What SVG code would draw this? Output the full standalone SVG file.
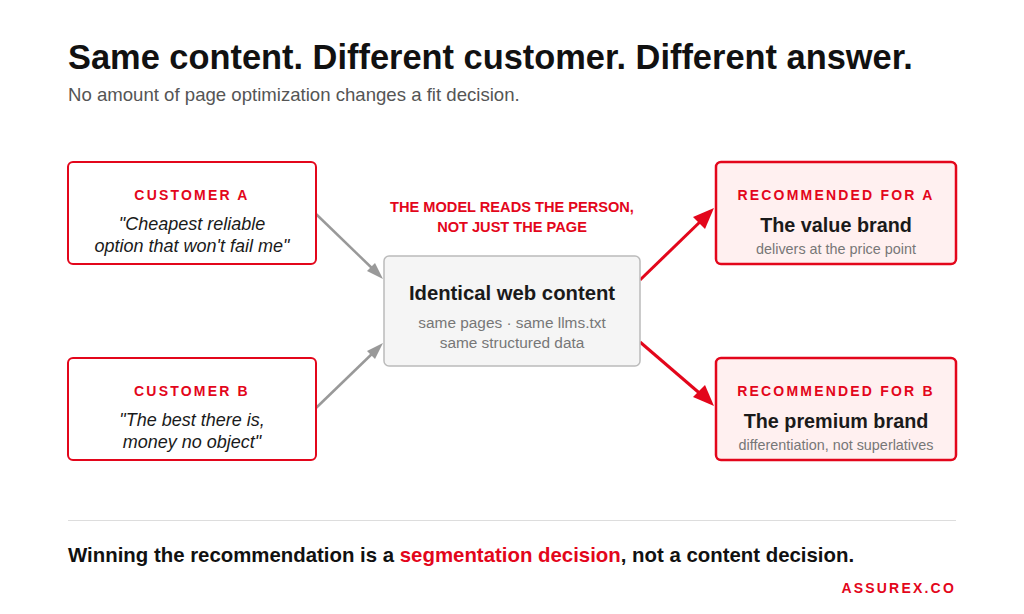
<svg xmlns="http://www.w3.org/2000/svg" width="1024" height="614" viewBox="0 0 1024 614">
<style>
text{font-family:"Liberation Sans",Arial,sans-serif}
.cust{fill:#fff;stroke:#e3061b;stroke-width:2}
.rec{fill:#fff0f0;stroke:#e3061b;stroke-width:2.5}
.lab{font-size:14px;font-weight:bold;fill:#e3061b;letter-spacing:2.2px;text-anchor:middle}
.quote{font-size:18px;font-style:italic;fill:#1a1a1a;text-anchor:middle}
.head{font-size:20.3px;font-weight:bold;fill:#1a1a1a;text-anchor:middle}
.head2{font-size:19.8px;font-weight:bold;fill:#1a1a1a;text-anchor:middle}
.sub{font-size:15.4px;fill:#777;text-anchor:middle}
.sub2{font-size:14.4px;fill:#777;text-anchor:middle}
.gray{stroke:#999;stroke-width:2.5;fill:none}
.red{stroke:#e3061b;stroke-width:3;fill:none}
</style>
<rect width="1024" height="614" fill="#fff"/>
<text x="68" y="69" font-size="34.4" font-weight="bold" fill="#111">Same content. Different customer. Different answer.</text>
<text x="68" y="101" font-size="18.6" fill="#555">No amount of page optimization changes a fit decision.</text>

<g id="connectors">
<line class="gray" x1="316" y1="214" x2="376" y2="272"/>
<line class="gray" x1="316" y1="408" x2="376" y2="350"/>
<line class="red" x1="640" y1="280" x2="704" y2="218"/>
<line class="red" x1="640" y1="342" x2="704" y2="397"/>
<path d="M383,279 L367,271 L375,263 z" fill="#999"/>
<path d="M383,343 L375,359 L367,351 z" fill="#999"/>
<path d="M714,208 L705,229 L693,217 z" fill="#e3061b"/>
<path d="M714,406 L693,397 L705,385 z" fill="#e3061b"/>
</g>

<g id="customerA">
<rect class="cust" x="68" y="162" width="248" height="102" rx="5"/>
<text class="lab" x="192" y="200">CUSTOMER A</text>
<text class="quote" x="192" y="230">"Cheapest reliable</text>
<text class="quote" x="192" y="252">option that won't fail me"</text>
</g>
<g id="customerB">
<rect class="cust" x="68" y="358" width="248" height="102" rx="5"/>
<text class="lab" x="192" y="396">CUSTOMER B</text>
<text class="quote" x="192" y="426">"The best there is,</text>
<text class="quote" x="192" y="448">money no object"</text>
</g>
<g id="modelLabel">
<text x="512" y="212" font-size="14.6" font-weight="bold" fill="#e3061b" text-anchor="middle">THE MODEL READS THE PERSON,</text>
<text x="512" y="232" font-size="14.6" font-weight="bold" fill="#e3061b" text-anchor="middle">NOT JUST THE PAGE</text>
</g>
<g id="content">
<rect x="384" y="256" width="256" height="110" rx="5" fill="#f5f5f5" stroke="#bbb" stroke-width="1.5"/>
<text class="head" x="512" y="300">Identical web content</text>
<text class="sub" x="512" y="328">same pages · same llms.txt</text>
<text class="sub" x="512" y="348">same structured data</text>
</g>
<g id="recA">
<rect class="rec" x="716" y="162" width="240" height="102" rx="5"/>
<text class="lab" x="836" y="200">RECOMMENDED FOR A</text>
<text class="head2" x="836" y="232">The value brand</text>
<text class="sub2" x="836" y="254">delivers at the price point</text>
</g>
<g id="recB">
<rect class="rec" x="716" y="358" width="240" height="102" rx="5"/>
<text class="lab" x="836" y="396">RECOMMENDED FOR B</text>
<text class="head2" x="836" y="428">The premium brand</text>
<text class="sub2" x="836" y="450">differentiation, not superlatives</text>
</g>
<line x1="68" y1="520.5" x2="956" y2="520.5" stroke="#ddd" stroke-width="1"/>
<text x="68" y="562" font-size="20.4" font-weight="bold" fill="#111">Winning the recommendation is a <tspan fill="#e3061b">segmentation decision</tspan>, not a content decision.</text>
<text x="956" y="593" font-size="14" font-weight="bold" fill="#e3061b" letter-spacing="2.2" text-anchor="end">ASSUREX.CO</text>
</svg>
